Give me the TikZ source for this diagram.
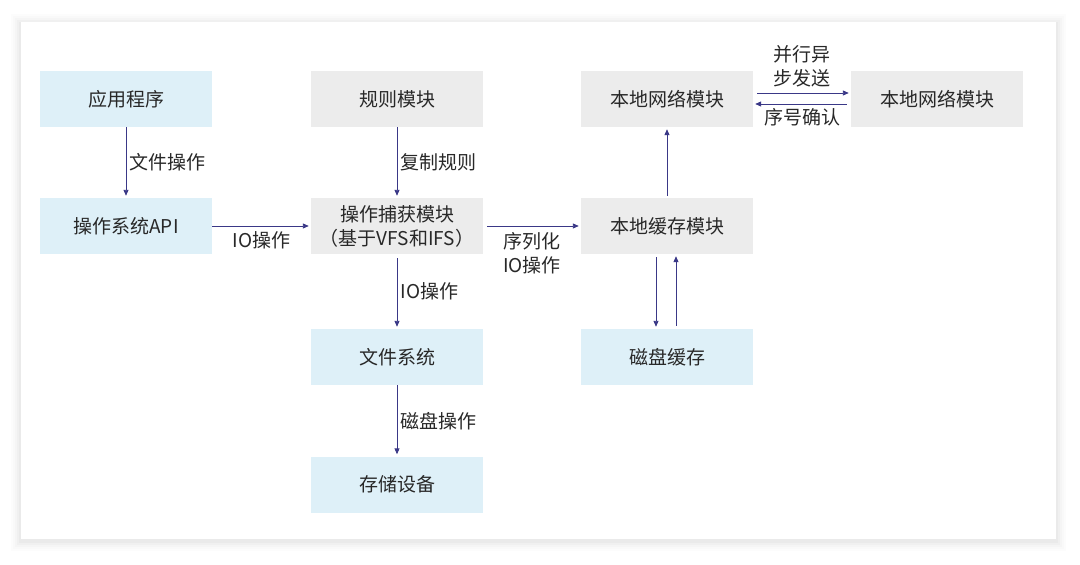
\documentclass[tikz,border=0pt]{standalone}
\usepackage{fontspec}
\setmainfont{Noto Sans CJK SC}
\usetikzlibrary{arrows.meta}

\definecolor{boxblue}{RGB}{222,240,248}
\definecolor{boxgray}{RGB}{236,236,236}
\definecolor{linkcol}{RGB}{58,56,135}
\definecolor{txtcol}{RGB}{40,40,40}

\begin{document}
\begin{tikzpicture}[x=1pt, y=-1pt,
  every node/.style = {text=txtcol, font=\fontsize{19}{24}\selectfont},
  bluebox/.style = {fill=boxblue, minimum width=172pt, minimum height=56pt, inner sep=0pt, align=center},
  graybox/.style = {fill=boxgray, minimum width=172pt, minimum height=56pt, inner sep=0pt, align=center},
  link/.style = {draw=linkcol, line width=0.9pt, -{Triangle[length=6pt,width=5pt]}, shorten >=2pt},
  lbl/.style = {inner sep=3pt, align=center}]

  % page and card
  \useasboundingbox (0,0) rectangle (1080,565);
  \fill[white] (0,0) rectangle (1080,565);
  \foreach \d/\o in {10/0.01, 8/0.012, 6/0.015, 4/0.02, 2/0.025}
    \fill[black, opacity=\o] (21-\d,22-\d+2) rectangle (1056+\d,539+\d+2);
  \fill[white] (21,22) rectangle (1056,539);

  % left column
  \node[bluebox] (app) at (126,99) {应用程序};
  \node[bluebox] (api) at (126,226) {操作系统API};

  % middle column
  \node[graybox] (rule) at (397,99) {规则模块};
  \node[graybox] (cap) at (397,226) {操作捕获模块\\（基于VFS和IFS）};
  \node[bluebox] (fs) at (397,357) {文件系统};
  \node[bluebox] (dev) at (397,484.5) {存储设备};

  % right side
  \node[graybox] (netl) at (667,99) {本地网络模块};
  \node[graybox] (cache) at (667,226) {本地缓存模块};
  \node[bluebox] (disk) at (667,357) {磁盘缓存};
  \node[graybox] (netr) at (937,99) {本地网络模块};

  \draw[link] (app) -- node[lbl, right] {文件操作} (api);
  \draw[link] (api) -- node[lbl, below, yshift=-2pt] {IO操作} (cap);
  \draw[link] (rule) -- node[lbl, right] {复制规则} (cap);
  \draw[link, shorten <=4pt] (cap) -- node[lbl, right] {IO操作} (fs);
  \draw[link] (fs) -- node[lbl, right] {磁盘操作} (dev);
  \draw[link, shorten <=4pt] (cap) -- node[lbl, below, yshift=-3pt] {序列化\\IO操作} (cache);
  \draw[link, shorten <=2pt] (cache) -- (netl);
  \draw[link, shorten <=3pt] ([xshift=-11pt]cache.south) -- ([xshift=-11pt]disk.north);
  \draw[link, shorten <=3pt] ([xshift=9pt]disk.north) -- ([xshift=9pt]cache.south);
  \draw[link, shorten <=4pt] ([yshift=6pt]netl.east) -- node[lbl, above, yshift=2pt] {并行异\\步发送} ([yshift=6pt]netr.west);
  \draw[link, shorten <=4pt] ([yshift=-5pt]netr.west) -- node[lbl, below, yshift=-1pt] {序号确认} ([yshift=-5pt]netl.east);

\end{tikzpicture}
\end{document}
